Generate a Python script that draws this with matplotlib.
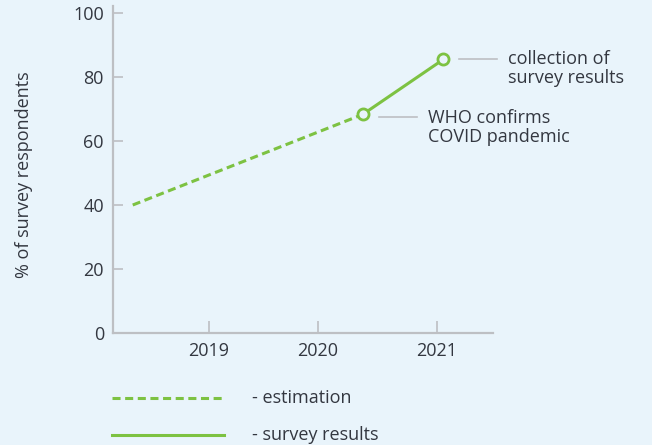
import matplotlib
matplotlib.use("Agg")
import matplotlib.pyplot as plt
from matplotlib.lines import Line2D

plt.rcParams['font.family'] = ['Open Sans', 'DejaVu Sans']
plt.rcParams['lines.scale_dashes'] = False

# Data (x in fractional years, y in % of respondents)
est_x = [2018.30, 2020.41]
est_y = [40.0, 68.3]
survey_x = [2020.41, 2021.15]
survey_y = [68.3, 85.5]
event_x = [2020.41, 2021.15]
event_y = [68.3, 85.5]
event_labels = ["WHO confirms\nCOVID pandemic", "collection of\nsurvey results"]
year_ticks = [2019.0, 2020.0, 2021.09]
year_labels = ["2019", "2020", "2021"]
y_ticks = [0, 20, 40, 60, 80, 100]
legend_labels = ["- estimation", "- survey results"]

BG = "#e9f4fb"
GREEN = "#7dc242"
AXC = "#bdbfc3"
TXT = "#333740"
FS = 13

W, H = 652, 445
fig = plt.figure(figsize=(W / 100, H / 100), dpi=100, facecolor=BG)
ax = fig.add_axes([113 / W, 1 - 333 / H, (493 - 113) / W, (333 - 6) / H])
ax.set_facecolor(BG)

ax.set_xlim(2018.119, 2021.606)
ax.set_ylim(0, 102.2)

ax.plot(est_x, est_y, color=GREEN, lw=2.2, dashes=(5.8, 3.3), solid_capstyle='butt')
ax.plot(survey_x, survey_y, color=GREEN, lw=2.2, solid_capstyle='round')
ax.plot(event_x, event_y, linestyle='none', marker='o', markersize=8,
        markerfacecolor=BG, markeredgecolor=GREEN, markeredgewidth=2.0, zorder=5)

# annotations with leader lines (pixel offsets from the marker)
leader_dy = [3, 0]
text_base_dy = [9, 4.5]
fig.canvas.draw()
for ex, ey, lab, ldy, tdy in zip(event_x, event_y, event_labels, leader_dy, text_base_dy):
    x0, y0 = ax.transData.transform((ex, ey))
    fig.add_artist(Line2D([(x0 + 16) / W, (x0 + 54) / W],
                          [(y0 - ldy) / H, (y0 - ldy) / H], color=AXC, lw=1.2))
    lines = lab.split("\n")
    for i, ln in enumerate(lines):
        fig.text((x0 + 65) / W, (y0 - tdy - 19 * i) / H, ln, color=TXT, fontsize=FS,
                 ha='left', va='baseline')

for s in ['top', 'right']:
    ax.spines[s].set_visible(False)
for s in ['left', 'bottom']:
    ax.spines[s].set_color(AXC)
    ax.spines[s].set_linewidth(1.6)

ax.set_yticks(y_ticks)
ax.set_xticks(year_ticks)
ax.set_xticklabels(year_labels)
ax.tick_params(axis='y', direction='in', length=7, width=1.2, colors=AXC,
               labelcolor=TXT, labelsize=FS, pad=6.5)
ax.tick_params(axis='x', direction='in', length=8.5, width=1.2, colors=AXC,
               labelcolor=TXT, labelsize=FS, pad=6.5)

fig.text(24 / W, 1 - 175 / H, "% of survey respondents", rotation=90,
         color=TXT, fontsize=FS, ha='center', va='center')

# legend
styles = [dict(dashes=(5.8, 3.3)), dict()]
ys = [398, 435]
for st, yy, lab in zip(styles, ys, legend_labels):
    fig.add_artist(Line2D([112 / W, 224 / W], [1 - yy / H, 1 - yy / H],
                          color=GREEN, lw=2.2, **st))
    fig.text(252 / W, 1 - (yy + 5) / H, lab, color=TXT, fontsize=FS,
             ha='left', va='baseline')

fig.savefig("out.png", dpi=100, facecolor=BG)
